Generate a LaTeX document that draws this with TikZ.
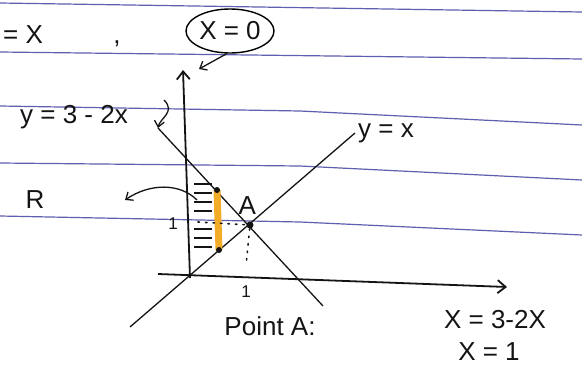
\documentclass[tikz,border=0pt]{standalone}
\usepackage{fontspec}
\setmainfont{Liberation Sans}
\usepackage{xcolor}
\usetikzlibrary{arrows.meta, positioning, shapes.geometric}
\definecolor{rulecolor}{RGB}{95, 95, 175}
\definecolor{inkcolor}{RGB}{20, 20, 20}
\definecolor{markcolor}{RGB}{242, 172, 40}

\begin{document}
\begin{tikzpicture}[
    x=1pt, y=-1pt,
    node distance=6pt,
    paperrule/.style={draw=rulecolor, line width=1.2pt},
    axisline/.style={-{Straight Barb[length=8pt, width=13pt]}, line width=1.8pt, color=inkcolor},
    graphline/.style={line width=1.3pt, color=inkcolor},
    handtext/.style={font=\fontsize{26}{28}\selectfont, text=inkcolor, inner sep=1pt},
    ticktext/.style={font=\fontsize{17}{19}\selectfont, text=inkcolor, inner sep=1pt},
    hatch/.style={line width=1.4pt, color=inkcolor},
    guide/.style={line width=1.6pt, color=inkcolor, dash pattern=on 1.5pt off 6pt, line cap=round},
    pointer/.style={-{Straight Barb[length=6pt, width=10pt]}, line width=1.3pt, color=inkcolor},
    dot/.style={circle, fill=inkcolor, inner sep=0pt, minimum size=7pt}
]
\useasboundingbox[fill=white] (0,0) rectangle (582,378);

% ruled paper
\draw[paperrule] (0,3) -- (582,12);
\draw[paperrule] (0,52) -- (582,59);
\draw[paperrule] (0,106) -- (300,111) -- (582,125);
\draw[paperrule] (0,163) -- (300,166) -- (582,180);
\draw[paperrule] (0,216) -- (300,222) -- (582,235);

% axes
\coordinate (ybottom) at (190,278);
\coordinate (ytop) at (183,70);
\coordinate (xleft) at (158,274);
\coordinate (xright) at (507,287);
\draw[axisline] (ybottom) -- (ytop);
\draw[axisline] (xleft) -- (xright);

% the two lines
\coordinate (yxlow) at (130,327);
\coordinate (yxhigh) at (355,133);
\coordinate (slopehigh) at (158,128);
\coordinate (slopelow) at (323,306);
\draw[graphline] (yxlow) -- (yxhigh);
\draw[graphline] (slopehigh) -- (slopelow);

% region R
\foreach \yy in {184,193,202,211,229,238,247}
    \draw[hatch] (194,\yy) -- (212,\yy);
\coordinate (striptop) at (217,190);
\coordinate (stripbottom) at (219,250);
\draw[markcolor, line width=7pt] (striptop) -- (stripbottom);
\node[dot, minimum size=6pt] (stripA) at (striptop) {};
\node[dot, minimum size=6pt] (stripB) at (stripbottom) {};

% point A
\node[dot] (A) at (250,225) {};
\node[handtext, above=7pt of A.north west, anchor=south] (Alabel) {A};
\coordinate (yone) at (198,222);
\coordinate (xone) at (246,266);
\draw[guide] (yone) -- (A);
\draw[guide] (A) -- (xone);
\node[ticktext] (ytick) at (173,224) {1};
\node[ticktext] (xtick) at (246,292) {1};

% labels
\node[handtext, anchor=west] (topeq) at (2,35) {= X};
\node[handtext] (sep) at (117,44) {,};
\node[handtext, draw, ellipse, line width=1.4pt, minimum width=88pt, minimum height=44pt, inner sep=0pt] (yaxiseq) at (230,31) {X = 0};
\coordinate (yaxispt) at (199,69);
\draw[pointer] (yaxiseq.262) -- (yaxispt);

\node[handtext] (slopelabel) at (74,117) {y = 3 - 2x};
\coordinate (curlstart) at (164,100);
\coordinate (curlend) at (158,128);
\draw[pointer] (curlstart) .. controls (176,112) and (160,118) .. (curlend);

\node[handtext, right=2pt of yxhigh] (yxlabel) {y = x};

\node[handtext] (R) at (35,200) {R};
\coordinate (Rfrom) at (197,200);
\coordinate (Rto) at (125,200);
\draw[pointer] (Rfrom) .. controls (180,183) and (150,183) .. (Rto);

\node[handtext] (pointA) at (270,326) {Point A:};
\node[handtext] (solve) at (495,320) {X = 3-2X};
\node[handtext] (xsol) at (489,352) {X = 1};
\end{tikzpicture}
\end{document}
